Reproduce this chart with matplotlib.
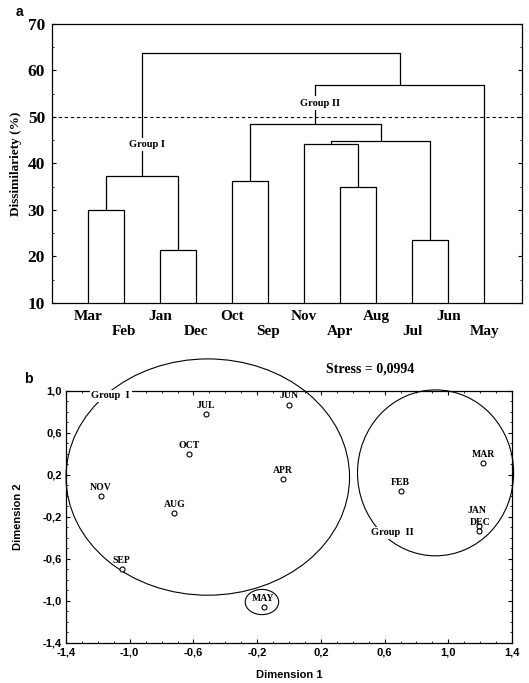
import matplotlib
matplotlib.use("Agg")
import matplotlib.pyplot as plt
from matplotlib.patches import Ellipse
from matplotlib.ticker import MultipleLocator

# ---------------------------------------------------------------------------
# Data
# ---------------------------------------------------------------------------
# (a) dendrogram: leaf order and merges (scipy-like ids: leaves 0..11, then 12..)
leaves = ["Mar", "Feb", "Jan", "Dec", "Oct", "Sep",
          "Nov", "Apr", "Aug", "Jul", "Jun", "May"]
merge_left = [0, 2, 12, 4, 7, 6, 9, 17, 15, 20, 14]
merge_right = [1, 3, 13, 5, 8, 16, 10, 18, 19, 11, 21]
merge_height = [29.9, 21.3, 37.4, 36.2, 34.9, 44.1, 23.6, 44.8, 48.4, 56.8, 63.8]
cut_level = 50

# (b) MDS ordination
months = ["JUL", "JUN", "OCT", "APR", "NOV", "AUG", "SEP", "MAY",
          "FEB", "MAR", "JAN", "DEC"]
dim1 = [-0.52, 0.00, -0.63, -0.04, -1.18, -0.72, -1.05, -0.16,
        0.70, 1.22, 1.19, 1.19]
dim2 = [0.78, 0.87, 0.40, 0.16, 0.00, -0.16, -0.70, -1.06,
        0.05, 0.31, -0.29, -0.33]
stress = "0,0994"

SERIF = "Liberation Serif"
SANS = "Liberation Sans"


def comma(v, _pos=None):
    return f"{v:.1f}".replace(".", ",")


fig = plt.figure(figsize=(5.29, 6.83), dpi=100)

# ---------------------------------------------------------------------------
# Panel a: dendrogram
# ---------------------------------------------------------------------------
ax1 = fig.add_axes([0.0983, 0.5564, 0.8885, 0.4085])
base = 10
xs = {i: i + 1 for i in range(len(leaves))}
hs = {i: base for i in range(len(leaves))}
for k, (l, r, h) in enumerate(zip(merge_left, merge_right, merge_height)):
    node = len(leaves) + k
    ax1.plot([xs[l], xs[l], xs[r], xs[r]], [hs[l], h, h, hs[r]],
             color="black", lw=0.9, solid_capstyle="butt")
    xs[node] = (xs[l] + xs[r]) / 2
    hs[node] = h

ax1.axhline(cut_level, color="black", lw=0.8, ls=(0, (3, 2.5)))
txt_kw = dict(fontsize=7.5, fontweight="bold", family=SERIF, ha="center",
              va="center", zorder=5,
              bbox=dict(facecolor="white", edgecolor="none", pad=1.5))
ax1.text(xs[14] + 0.15, 44, "Group I", **txt_kw)
ax1.text(xs[20] + 0.12, 53, "Group II", **txt_kw)

ax1.set_xlim(0, 13.05)
ax1.set_ylim(10, 70)
ax1.set_xticks([xs[i] for i in range(len(leaves))])
ax1.set_xticklabels([m if i % 2 == 0 else "\n" + m for i, m in enumerate(leaves)],
                    fontsize=11, fontweight="bold", family=SERIF)
ax1.tick_params(axis="x", length=0, pad=5)
ax1.set_yticks(range(10, 71, 10))
ax1.yaxis.set_minor_locator(MultipleLocator(5))
ax1.tick_params(axis="y", which="both", direction="in", right=True)
ax1.tick_params(axis="y", which="major", length=3, labelsize=12.5, pad=5)
ax1.tick_params(axis="y", which="minor", length=1.5)
for lab in ax1.get_yticklabels():
    lab.set_family(SERIF)
    lab.set_fontweight("bold")
ax1.set_ylabel("Dissimilariety (%)", fontsize=9.5, fontweight="bold",
               family=SERIF, labelpad=4)
for s in ax1.spines.values():
    s.set_linewidth(0.9)
fig.text(0.03, 0.982, "a", fontsize=10, fontweight="bold", family=SANS,
         ha="left", va="center")

# ---------------------------------------------------------------------------
# Panel b: MDS plot
# ---------------------------------------------------------------------------
ax2 = fig.add_axes([0.1248, 0.0586, 0.8431, 0.3690])
ax2.plot(dim1, dim2, "o", mfc="white", mec="black", ms=3.6, mew=0.8, zorder=4)
# JAN and DEC sit almost on top of each other: stack their labels
label_offset = {"JAN": (-1, 8), "DEC": (1, 2.5)}
for m, x, y in zip(months, dim1, dim2):
    ax2.annotate(m, (x, y), xytext=label_offset.get(m, (0, 3)),
                 textcoords="offset points", ha="center", va="bottom",
                 fontsize=7, fontweight="bold", family=SERIF, zorder=5)

ax2.add_patch(Ellipse((-0.51, 0.18), 1.78, 2.25, fill=False, lw=0.8,
                      color="black", clip_on=False))
ax2.add_patch(Ellipse((0.92, 0.22), 0.98, 1.58, fill=False, lw=0.8,
                      color="black", clip_on=False))
ax2.add_patch(Ellipse((-0.17, -1.01), 0.21, 0.24, fill=False, lw=0.8,
                      color="black"))
lab_kw = dict(fontsize=7.5, fontweight="bold", family=SERIF, ha="center",
              va="center", zorder=6,
              bbox=dict(facecolor="white", edgecolor="none", pad=1.2))
ax2.text(-1.12, 0.955, "Group  I", clip_on=False, **lab_kw)
ax2.text(0.65, -0.35, "Group  II", **lab_kw)
ax2.text(0.51, 1.21, f"Stress = {stress}", fontsize=10, fontweight="bold",
         family=SERIF, ha="center", va="center", clip_on=False)

ax2.set_xlim(-1.4, 1.4)
ax2.set_ylim(-1.4, 1.0)
ax2.set_xticks([-1.4, -1.0, -0.6, -0.2, 0.2, 0.6, 1.0, 1.4])
ax2.set_yticks([-1.4, -1.0, -0.6, -0.2, 0.2, 0.6, 1.0])
ax2.xaxis.set_major_formatter(comma)
ax2.yaxis.set_major_formatter(comma)
ax2.xaxis.set_minor_locator(MultipleLocator(0.1))
ax2.yaxis.set_minor_locator(MultipleLocator(0.1))
ax2.tick_params(which="both", direction="in", top=True, right=True)
ax2.tick_params(which="major", length=3, labelsize=8, pad=3)
ax2.tick_params(which="minor", length=1.5)
for lab in ax2.get_xticklabels() + ax2.get_yticklabels():
    lab.set_family(SANS)
    lab.set_fontweight("bold")
ax2.set_xlabel("Dimension 1", fontsize=8, fontweight="bold", family=SANS,
               labelpad=9)
ax2.set_ylabel("Dimension 2", fontsize=8, fontweight="bold", family=SANS,
               labelpad=14)
for s in ax2.spines.values():
    s.set_linewidth(0.9)
fig.text(0.045, 0.445, "b", fontsize=10, fontweight="bold", family=SANS,
         ha="left", va="center")

fig.savefig("out.png", dpi=100)
